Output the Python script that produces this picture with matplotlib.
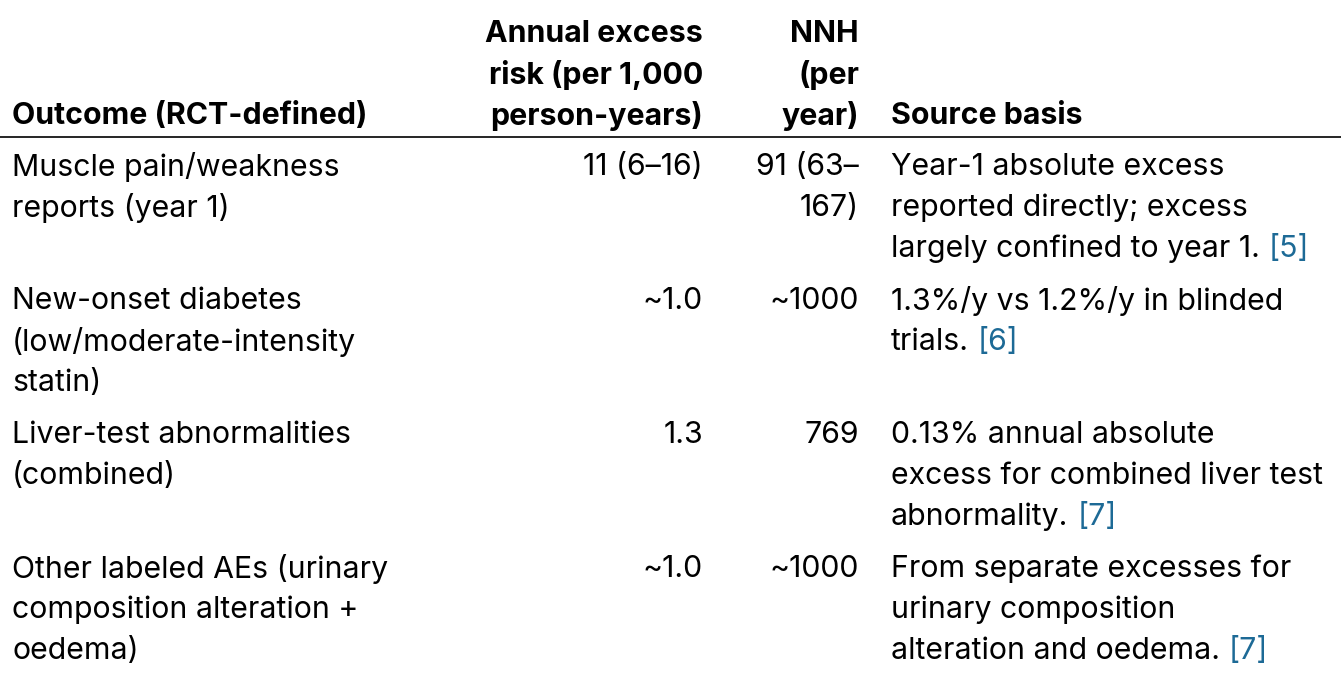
import matplotlib
matplotlib.use("Agg")
import matplotlib.pyplot as plt

plt.rcParams['font.family'] = ['Inter', 'DejaVu Sans']

W, H = 1341, 692
FS = 21.8
LINK = '#1d6a96'

headers = [
    ["Outcome (RCT-defined)"],
    ["Annual excess", "risk (per 1,000", "person-years)"],
    ["NNH", "(per", "year)"],
    ["Source basis"],
]
outcomes = [
    ["Muscle pain/weakness", "reports (year 1)"],
    ["New-onset diabetes", "(low/moderate-intensity", "statin)"],
    ["Liver-test abnormalities", "(combined)"],
    ["Other labeled AEs (urinary", "composition alteration +", "oedema)"],
]
excess_risk = [["11 (6\u201316)"], ["~1.0"], ["1.3"], ["~1.0"]]
nnh = [["91 (63\u2013", "167)"], ["~1000"], ["769"], ["~1000"]]
sources = [
    ["Year-1 absolute excess", "reported directly; excess", "largely confined to year 1."],
    ["1.3%/y vs 1.2%/y in blinded", "trials."],
    ["0.13% annual absolute", "excess for combined liver test", "abnormality."],
    ["From separate excesses for", "urinary composition", "alteration and oedema."],
]
refs = ["[5]", "[6]", "[7]", "[7]"]

# column anchors (px) and alignment
col_x = [12, 703, 859, 891]
col_ha = ['left', 'right', 'right', 'left']

LINE = 40.8
header_bottom = 116
rule_y = 137
row_top = [167, 301, 435, 569]

fig = plt.figure(figsize=(W / 100, H / 100), dpi=100)
fig.patch.set_facecolor('white')


def px(x, y):
    return x / W, 1 - y / H


def put(x, y, s, ha='left', bold=False, color='black'):
    fx, fy = px(x, y)
    return fig.text(fx, fy, s, ha=ha, va='center', fontsize=FS,
                    fontweight='bold' if bold else 'normal', color=color)


# header: bottom-aligned
for c, lines in enumerate(headers):
    n = len(lines)
    for i, s in enumerate(lines):
        y = header_bottom - (n - 1 - i) * LINE
        put(col_x[c], y, s, ha=col_ha[c], bold=True)

fig.add_artist(plt.Line2D([0, 1], [1 - rule_y / H] * 2, color='black', lw=1.2))

fig.canvas.draw()
renderer = fig.canvas.get_renderer()

for r in range(len(outcomes)):
    y0 = row_top[r]
    for c, col in enumerate([outcomes, excess_risk, nnh]):
        for i, s in enumerate(col[r]):
            put(col_x[c], y0 + i * LINE, s, ha=col_ha[c])
    for i, s in enumerate(sources[r]):
        t = put(col_x[3], y0 + i * LINE, s)
        if i == len(sources[r]) - 1:
            bb = t.get_window_extent(renderer)
            put(bb.x1 + 9, y0 + i * LINE, refs[r], color=LINK)

fig.savefig('out.png', dpi=100, facecolor='white')
